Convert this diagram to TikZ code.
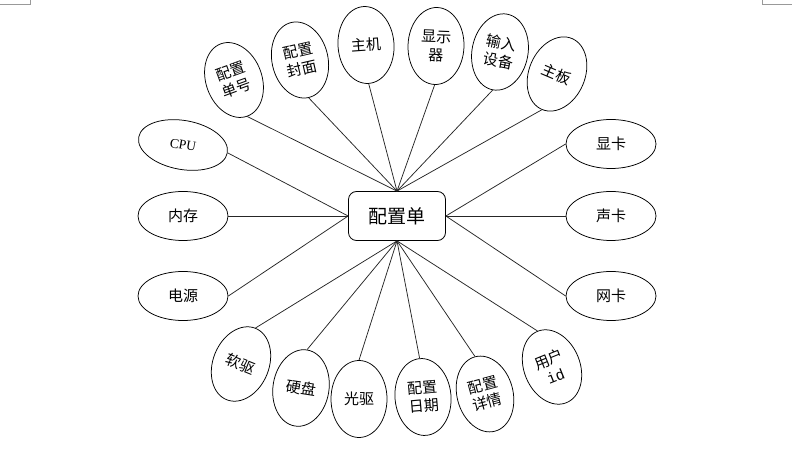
\documentclass[tikz,border=0pt]{standalone}
\usepackage{fontspec}
\newfontfamily\cjk{Noto Sans CJK SC}
\newfontfamily\latserif{Liberation Serif}
\newfontfamily\latmono{Liberation Mono}
\usetikzlibrary{shapes.geometric}
\tikzset{
  conn/.style={draw=black!85, line width=0.75pt},
  hub/.style={draw=black, line width=0.8pt, rounded corners=8pt, minimum width=97pt, minimum height=49pt, inner sep=0pt, font=\cjk\fontsize{19}{21}\selectfont},
  wide/.style={ellipse, draw=black, line width=0.75pt, minimum width=90pt, minimum height=49pt, inner sep=0pt, font=\cjk\fontsize{15}{18}\selectfont},
  tall/.style={ellipse, draw=black, line width=0.75pt, minimum width=56pt, minimum height=77pt, inner sep=0pt, align=center, font=\cjk\fontsize{15}{18}\selectfont},
  pagemark/.style={draw=black!40, line width=0.6pt}
}
\begin{document}
\begin{tikzpicture}[x=1pt,y=1pt]
\useasboundingbox (0,0) rectangle (808,455);
% page corner marks
\draw[pagemark] (0,451) -- (30,451) -- (30,455);
\draw[pagemark] (762,455) -- (762,451) -- (792,451);
% hub
\node[hub] (h) at (397,239) {配置单};
% left
\node[wide, rotate=-10] (cpu) at (183,310) {\latserif\fontsize{13.5}{15}\selectfont CPU};
\node[wide] (mem) at (183,239) {内存};
\node[wide] (pwr) at (183,159) {电源};
% right
\node[wide] (gpu) at (611,311) {显卡};
\node[wide] (snd) at (611,239) {声卡};
\node[wide] (net) at (611,159) {网卡};
% top
\node[tall, rotate=20] (t1) at (234,375) {配置\\单号};
\node[tall, rotate=13] (t2) at (300,395) {配置\\封面};
\node[tall, rotate=4] (t3) at (366,410) {主机};
\node[tall, rotate=-2] (t4) at (436,409) {显示\\器};
\node[tall, rotate=-11] (t5) at (500,403) {输入\\设备};
\node[tall, rotate=-23] (t6) at (557,381) {主板};
% bottom
\node[tall, rotate=-22] (b1) at (241,91) {软驱};
\node[tall, rotate=-9] (b2) at (301,67) {硬盘};
\node[tall, rotate=0] (b3) at (359,56) {光驱};
\node[tall, rotate=5] (b4) at (423,58) {配置\\日期};
\node[tall, rotate=15] (b5) at (485,61) {配置\\详情};
\node[tall, rotate=22] (b6) at (552,88) {用户\\{\latmono id}};
% connectors
\foreach \n in {cpu,mem,pwr} \draw[conn] (h.west) -- (\n.east);
\foreach \n in {gpu,snd,net} \draw[conn] (h.east) -- (\n.west);
\foreach \n in {t1,t2,t3,t4,t5,t6} \draw[conn] (h.north) -- (\n.south);
\foreach \n in {b1,b2,b3,b4,b5,b6} \draw[conn] (h.south) -- (\n.north);
\end{tikzpicture}
\end{document}
